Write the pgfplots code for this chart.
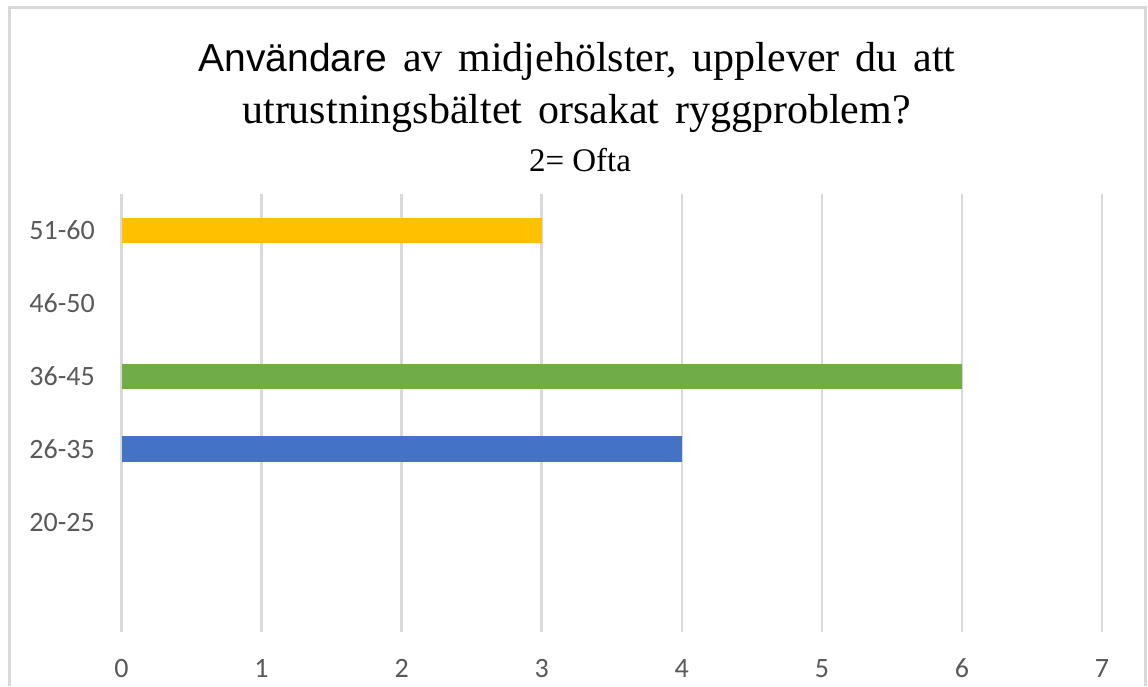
\documentclass[border=0pt]{standalone}
\usepackage{fontspec}
\setmainfont{Liberation Serif}
\newfontfamily\titlef{Liberation Serif}[WordSpace=1.5]
\newfontfamily\arialf{Liberation Sans}
\newfontfamily\calibri{Carlito}
\usepackage{pgfplots}
\pgfplotsset{compat=1.18}
\definecolor{gridc}{HTML}{D9D9D9}
\definecolor{tickc}{HTML}{595959}
\definecolor{byel}{HTML}{FFC000}
\definecolor{bgrn}{HTML}{70AD47}
\definecolor{bblu}{HTML}{4472C4}
\begin{document}
\begin{tikzpicture}[x=1pt,y=1pt]
\path[use as bounding box] (0,0) rectangle (1148,686);
\draw[gridc, line width=3pt] (9.5,0) -- (9.5,678.5) -- (1145.5,678.5) -- (1145.5,0);
\begin{axis}[
 at={(121.5pt,54.5pt)}, anchor=south west,
 scale only axis, width=980.5pt, height=437.5pt,
 xmin=0, xmax=7, ymin=-0.5, ymax=5.5,
 xbar, bar width=25.5pt,
 axis line style={draw=none},
 xtick={0,1,2,3,4,5,6,7}, ytick={0,1,2,3,4,5},
 yticklabels={,20-25,26-35,36-45,46-50,51-60},
 xmajorgrids, grid style={gridc, line width=2.5pt},
 major tick length=0pt,
 tick label style={font=\calibri\fontsize{28}{28}\selectfont, text=tickc},
 /pgf/number format/assume math mode=true,
 xticklabel style={anchor=center, yshift=-37pt},
 yticklabel style={anchor=east, inner sep=0pt, xshift=-26.5pt},
 clip=false,
]
\addplot[fill=bblu, draw=none, bar shift=0pt] coordinates {(4,2)};
\addplot[fill=bgrn, draw=none, bar shift=0pt] coordinates {(6,3)};
\addplot[fill=byel, draw=none, bar shift=0pt] coordinates {(3,5)};
\end{axis}
\node[anchor=base, inner sep=0pt] at (577,614) {\titlef\fontsize{42}{42}\selectfont{\arialf\fontsize{39}{42}\selectfont Användare} av midjehölster, upplever du att};
\node[anchor=base, inner sep=0pt] at (576.5,562) {\titlef\fontsize{42}{42}\selectfont utrustningsbältet orsakat ryggproblem?};
\node[anchor=base, inner sep=0pt] at (580,514) {\fontsize{33}{33}\selectfont 2= Ofta};
\end{tikzpicture}
\end{document}
